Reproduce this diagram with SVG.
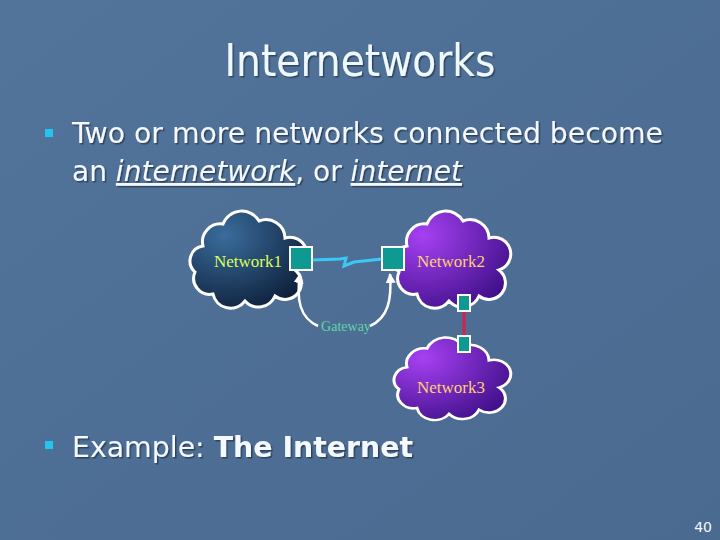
<svg xmlns="http://www.w3.org/2000/svg" width="720" height="540" viewBox="0 0 720 540">
<defs>
<linearGradient id="bg" x1="0" y1="0" x2="1" y2="1">
<stop offset="0" stop-color="#52739a"/>
<stop offset="1" stop-color="#4a6a90"/>
</linearGradient>
<radialGradient id="g1" cx="0.3" cy="0.25" r="0.9">
<stop offset="0" stop-color="#3a6c9c"/>
<stop offset="1" stop-color="#0a1a32"/>
</radialGradient>
<radialGradient id="g2" cx="0.25" cy="0.25" r="0.9">
<stop offset="0" stop-color="#a640f2"/>
<stop offset="1" stop-color="#3c0e86"/>
</radialGradient>
<filter id="sh" x="-5%" y="-20%" width="110%" height="140%">
<feDropShadow dx="1.5" dy="1.5" stdDeviation="0.5" flood-color="#000" flood-opacity="0.4"/>
</filter>
<path id="cloud" d="M 14,32 A 18,18 0 0 1 34,10 A 20,20 0 0 1 70,7 A 19,19 0 0 1 96,24 A 16,16 0 0 1 106,56 A 16,16 0 0 1 86,82 A 18,18 0 0 1 56,87 A 18,18 0 0 1 24,80 A 16,16 0 0 1 6,58 A 15,15 0 0 1 14,32 Z"/>
<marker id="arr" viewBox="0 0 10 10" refX="9" refY="5" markerWidth="4" markerHeight="4" orient="auto">
<path d="M0,0 L10,5 L0,10 Z" fill="#ffffff"/>
</marker>
</defs>
<style>
.cl{stroke:#ffffff;stroke-width:3}
.gw{fill:#0e9a92;stroke:#ffffff;stroke-width:2}
.nl{font-family:"Liberation Serif",serif;font-size:17px}
.body{font-family:"DejaVu Sans",sans-serif;font-size:28px;fill:#f4f8ff;filter:url(#sh)}
.bul{fill:#22c4f0}
</style>
<rect width="720" height="540" fill="url(#bg)"/>
<text x="360" y="76" text-anchor="middle" font-family="DejaVu Sans,sans-serif" font-size="44" fill="#eef8ff" textLength="271" lengthAdjust="spacingAndGlyphs" filter="url(#sh)">Internetworks</text>
<rect class="bul" x="45" y="129" width="8" height="8"/>
<text class="body" x="72" y="143" textLength="591" lengthAdjust="spacingAndGlyphs">Two or more networks connected become</text>
<text class="body" x="72" y="181" textLength="390" lengthAdjust="spacingAndGlyphs">an <tspan font-style="italic" text-decoration="underline">internetwork</tspan>, or <tspan font-style="italic" text-decoration="underline">internet</tspan></text>
<g id="network1">
<use href="#cloud" transform="translate(189,214)" fill="url(#g1)" class="cl"/>
<text class="nl" x="248" y="267" text-anchor="middle" fill="#dcff5a">Network1</text>
</g>
<g id="network2">
<use href="#cloud" transform="translate(393,214)" fill="url(#g2)" class="cl"/>
<text class="nl" x="451" y="267" text-anchor="middle" fill="#ffd070">Network2</text>
</g>
<g id="network3">
<use href="#cloud" transform="translate(393,340) scale(1,0.85)" fill="url(#g2)" class="cl"/>
<text class="nl" x="451" y="393" text-anchor="middle" fill="#ffd070">Network3</text>
</g>
<g id="connectors">
<path d="M312,260 L340,259 L346,258 L344,266 L354,262 L382,259" fill="none" stroke="#3cc8f4" stroke-width="3"/>
<line x1="464" y1="311" x2="464" y2="336" stroke="#d8204a" stroke-width="3"/>
<path d="M318,326 C300,318 296,300 300,274" fill="none" stroke="#ffffff" stroke-width="2.5" marker-end="url(#arr)"/>
<path d="M370,326 C388,318 392,300 390,274" fill="none" stroke="#ffffff" stroke-width="2.5" marker-end="url(#arr)"/>
</g>
<g id="gateway1"><rect class="gw" x="290" y="247" width="22" height="23"/></g>
<g id="gateway2"><rect class="gw" x="382" y="247" width="22" height="23"/></g>
<g id="router2"><rect class="gw" x="458" y="295" width="12" height="16"/></g>
<g id="router3"><rect class="gw" x="458" y="336" width="12" height="16"/></g>
<text x="346" y="331" text-anchor="middle" font-family="Liberation Serif,serif" font-size="14" fill="#5ed6a6">Gateway</text>
<rect class="bul" x="45" y="441" width="8" height="8"/>
<text class="body" x="72" y="457" textLength="341" lengthAdjust="spacingAndGlyphs">Example: <tspan font-weight="bold">The Internet</tspan></text>
<text x="712" y="532" text-anchor="end" font-family="DejaVu Sans,sans-serif" font-size="14" fill="#f4f8ff">40</text>
</svg>
